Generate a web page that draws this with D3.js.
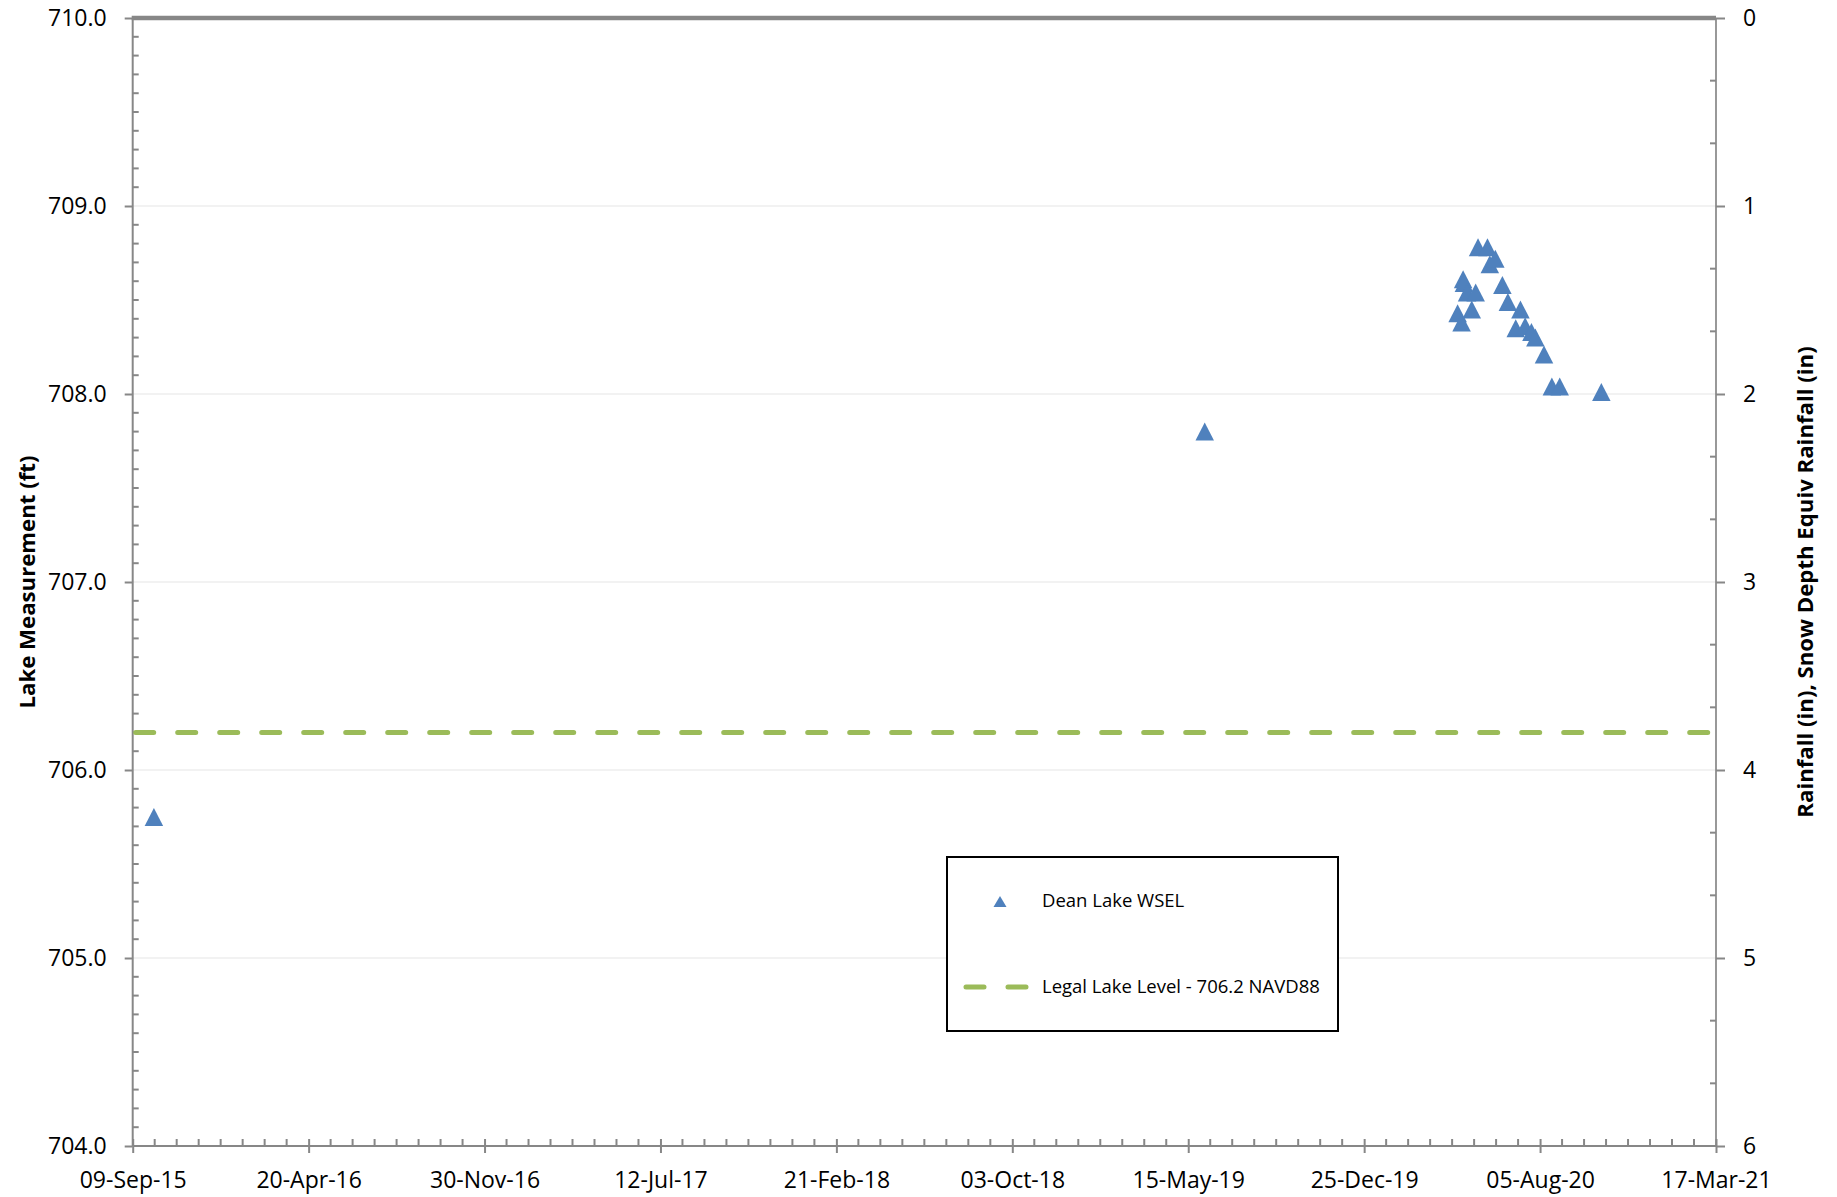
<!DOCTYPE html>
<html>
<head>
<meta charset="utf-8">
<script src="https://cdn.jsdelivr.net/npm/d3@7"></script>
<style>
  html, body { margin: 0; padding: 0; background: #fff; }
  svg { display: block; }
  text { font-family: "Open Sans", sans-serif; fill: #000; }
</style>
</head>
<body>
<svg id="chart" width="1837" height="1197"></svg>
<script>
// Dean Lake water surface elevation readings (ft, NAVD88)
const wselDates = [
  "2015-10-06", "2019-06-05",
  "2020-04-22", "2020-04-27", "2020-04-29", "2020-04-30", "2020-05-04",
  "2020-05-10", "2020-05-15", "2020-05-18", "2020-05-30", "2020-06-02",
  "2020-06-09", "2020-06-18", "2020-06-25", "2020-07-05", "2020-07-11",
  "2020-07-17", "2020-07-25", "2020-07-30", "2020-08-10", "2020-08-20",
  "2020-08-30", "2020-10-22"
];
const wselValues = [
  705.75, 707.80,
  708.43, 708.38, 708.61, 708.59, 708.54,
  708.45, 708.54, 708.78, 708.78, 708.69,
  708.72, 708.58, 708.49, 708.35, 708.45,
  708.36, 708.33, 708.30, 708.21, 708.04,
  708.04, 708.01
];

// Legal lake level reference
const legalLevel = 706.2;

// Axis tick labels
const xTickLabels = ["09-Sep-15", "20-Apr-16", "30-Nov-16", "12-Jul-17", "21-Feb-18",
                     "03-Oct-18", "15-May-19", "25-Dec-19", "05-Aug-20", "17-Mar-21"];
const leftTicks = [704, 705, 706, 707, 708, 709, 710];
const rightTicks = [0, 1, 2, 3, 4, 5, 6];

const seriesNames = ["Dean Lake WSEL", "Legal Lake Level - 706.2 NAVD88"];
const leftTitle = "Lake Measurement (ft)";
const rightTitle = "Rainfall (in), Snow Depth Equiv Rainfall (in)";

const svg = d3.select("#chart");
const plot = { left: 132.7, right: 1716, top: 18, bottom: 1146 };

const parseTick = d3.utcParse("%d-%b-%y");
const parseDay = d3.utcParse("%Y-%m-%d");
const tickDates = xTickLabels.map(parseTick);

const x = d3.scaleUtc()
  .domain([tickDates[0], tickDates[tickDates.length - 1]])
  .range([plot.left, plot.right]);
const y = d3.scaleLinear().domain([704, 710]).range([plot.bottom, plot.top]);
const y2 = d3.scaleLinear().domain([0, 6]).range([plot.top, plot.bottom]);

const axisColor = "#878787";

// horizontal gridlines
svg.append("g").selectAll("line")
  .data(leftTicks.filter(v => v > 704 && v < 710))
  .join("line")
  .attr("x1", plot.left).attr("x2", plot.right)
  .attr("y1", d => y(d)).attr("y2", d => y(d))
  .attr("stroke", "#eeeeee").attr("stroke-width", 1.6);

// left axis: major ticks outward, minor ticks inward every 0.1 ft
const gLeft = svg.append("g").attr("transform", `translate(${plot.left},0)`);
gLeft.call(d3.axisLeft(y).tickValues(leftTicks).tickFormat(d3.format(".1f"))
  .tickSize(8).tickPadding(18));
const leftMinor = d3.range(7040, 7100).map(v => v / 10).filter(v => Math.abs(v - Math.round(v)) > 1e-6);
gLeft.selectAll("line.minor").data(leftMinor).join("line").attr("class", "minor")
  .attr("x1", 0).attr("x2", 6).attr("y1", d => y(d)).attr("y2", d => y(d));

// right axis: major ticks outward, minor ticks inward every 1/3
const gRight = svg.append("g").attr("transform", `translate(${plot.right},0)`);
gRight.call(d3.axisRight(y2).tickValues(rightTicks).tickFormat(d3.format("d"))
  .tickSize(9).tickPadding(18));
const rightMinor = d3.range(0, 18).filter(i => i % 3 !== 0).map(i => i / 3);
gRight.selectAll("line.minor").data(rightMinor).join("line").attr("class", "minor")
  .attr("x1", 0).attr("x2", -6).attr("y1", d => y2(d)).attr("y2", d => y2(d));

// bottom axis: major ticks cross the line, minor ticks inward every 28 days
const gBottom = svg.append("g").attr("transform", `translate(0,${plot.bottom})`);
gBottom.call(d3.axisBottom(x).tickValues(tickDates).tickFormat((d, i) => xTickLabels[i])
  .tickSize(7).tickPadding(13));
gBottom.selectAll(".tick line").attr("y1", -7);
const minorDates = d3.utcDay.range(tickDates[0], tickDates[tickDates.length - 1], 28)
  .filter((d, i) => i % 8 !== 0);
gBottom.selectAll("line.minor").data(minorDates).join("line").attr("class", "minor")
  .attr("x1", d => x(d)).attr("x2", d => x(d)).attr("y1", 0).attr("y2", -7);

// shared axis styling
[gLeft, gRight, gBottom].forEach(g => {
  g.select(".domain").attr("stroke", axisColor).attr("stroke-width", 2);
  g.selectAll("line").attr("stroke", axisColor).attr("stroke-width", 2);
  g.selectAll(".tick text").attr("font-size", 23).attr("font-family", "Open Sans").attr("fill", "#000");
});
gRight.select(".domain").attr("stroke-width", 1.7);
gBottom.select(".domain").attr("d", `M${plot.left},0H${plot.right}`);
gLeft.select(".domain").attr("d", `M0,${plot.top}V${plot.bottom}`);
gRight.select(".domain").attr("d", `M0,${plot.top}V${plot.bottom}`);
gBottom.selectAll(".tick text").attr("dy", "0.95em");

// heavy top border
svg.append("line")
  .attr("x1", plot.left - 1).attr("x2", plot.right)
  .attr("y1", plot.top).attr("y2", plot.top)
  .attr("stroke", axisColor).attr("stroke-width", 4.6);

// legal lake level line
svg.append("line")
  .attr("x1", plot.left + 3).attr("x2", plot.right)
  .attr("y1", y(legalLevel)).attr("y2", y(legalLevel))
  .attr("stroke", "#9bbb59").attr("stroke-width", 5)
  .attr("stroke-linecap", "round").attr("stroke-dasharray", "18 24");

// triangle markers
const tri = (w, h) => `M0,${-h / 2}L${w / 2},${h / 2}L${-w / 2},${h / 2}Z`;
const points = wselDates.map((d, i) => ({ date: parseDay(d), value: wselValues[i] }));
svg.append("g").selectAll("path")
  .data(points)
  .join("path")
  .attr("d", tri(18.5, 18))
  .attr("transform", d => `translate(${x(d.date)},${y(d.value)})`)
  .attr("fill", "#4f81bd");

// axis titles
svg.append("text")
  .attr("transform", `translate(35,${(plot.top + plot.bottom) / 2}) rotate(-90)`)
  .attr("text-anchor", "middle")
  .attr("font-size", 22.2).attr("font-weight", "bold")
  .text(leftTitle);
svg.append("text")
  .attr("transform", `translate(1813,${(plot.top + plot.bottom) / 2}) rotate(-90)`)
  .attr("text-anchor", "middle")
  .attr("font-size", 22.2).attr("font-weight", "bold")
  .text(rightTitle);

// legend
const legend = svg.append("g");
legend.append("rect")
  .attr("x", 947).attr("y", 857).attr("width", 391).attr("height", 174)
  .attr("fill", "#fff").attr("stroke", "#000").attr("stroke-width", 2);
legend.append("path")
  .attr("d", tri(13, 11))
  .attr("transform", "translate(1000,901.5)")
  .attr("fill", "#4f81bd");
legend.append("line")
  .attr("x1", 966).attr("x2", 1026).attr("y1", 987).attr("y2", 987)
  .attr("stroke", "#9bbb59").attr("stroke-width", 5)
  .attr("stroke-linecap", "round").attr("stroke-dasharray", "18 24");
legend.append("text").attr("x", 1042).attr("y", 907)
  .attr("font-size", 18.5).text(seriesNames[0]);
legend.append("text").attr("x", 1042).attr("y", 993)
  .attr("font-size", 18.5).text(seriesNames[1]);
</script>
</body>
</html>
